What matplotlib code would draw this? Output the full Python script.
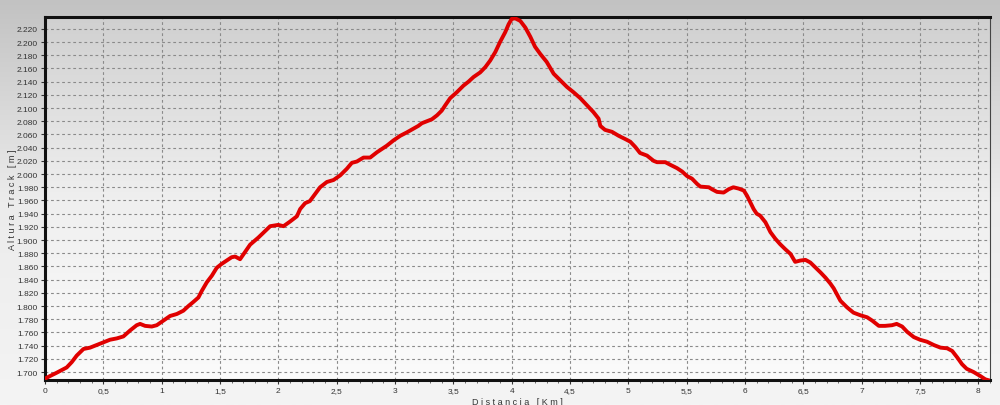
import numpy as np
import matplotlib
matplotlib.use('Agg')
import matplotlib.pyplot as plt
from matplotlib.ticker import FuncFormatter, MultipleLocator

# perfil del track: distancia (km) y altura (m)
dist_km = [0.0, 0.043, 0.1, 0.143, 0.186, 0.229, 0.272, 0.33, 0.386, 0.443, 0.5, 0.557,
           0.615, 0.672, 0.729, 0.786, 0.815, 0.858, 0.915, 0.958, 1.015, 1.072, 1.13,
           1.186, 1.229, 1.27, 1.315, 1.344, 1.387, 1.43, 1.472, 1.515, 1.558, 1.6, 1.63,
           1.672, 1.758, 1.83, 1.93, 2.0, 2.044, 2.1, 2.159, 2.187, 2.23, 2.27, 2.316,
           2.358, 2.416, 2.473, 2.53, 2.587, 2.63, 2.673, 2.73, 2.787, 2.845, 2.93, 2.987,
           3.045, 3.1, 3.159, 3.2, 3.23, 3.287, 3.316, 3.36, 3.4, 3.43, 3.473, 3.53, 3.587,
           3.63, 3.673, 3.73, 3.774, 3.816, 3.86, 3.9, 3.945, 3.974, 4.0, 4.03, 4.074,
           4.117, 4.16, 4.2, 4.245, 4.3, 4.36, 4.417, 4.474, 4.53, 4.588, 4.646, 4.7,
           4.745, 4.76, 4.8, 4.86, 4.917, 4.974, 5.017, 5.06, 5.1, 5.16, 5.217, 5.246,
           5.317, 5.36, 5.417, 5.46, 5.503, 5.546, 5.59, 5.617, 5.69, 5.717, 5.76, 5.817,
           5.86, 5.9, 5.946, 5.99, 6.018, 6.046, 6.074, 6.1, 6.13, 6.175, 6.218, 6.26,
           6.3, 6.346, 6.39, 6.43, 6.475, 6.518, 6.56, 6.6, 6.647, 6.69, 6.732, 6.76,
           6.818, 6.875, 6.93, 6.99, 7.047, 7.09, 7.147, 7.2, 7.26, 7.3, 7.347, 7.39,
           7.447, 7.5, 7.56, 7.618, 7.676, 7.733, 7.776, 7.82, 7.86, 7.9, 7.96, 8.017,
           8.06, 8.1]
alt_m = [1690, 1694, 1699, 1703, 1707, 1715, 1725, 1735, 1737, 1741, 1745, 1749,
         1751, 1754, 1763, 1771, 1773, 1770, 1769, 1771, 1778, 1785, 1788,
         1793, 1800, 1806, 1813, 1823, 1836, 1846, 1858, 1864, 1869, 1874, 1875,
         1871, 1893, 1904, 1921, 1923, 1921, 1928, 1936, 1947, 1956, 1959, 1970,
         1980, 1988, 1991, 1998, 2008, 2017, 2019, 2025, 2025, 2033, 2043, 2051,
         2058, 2063, 2069, 2073, 2077, 2081, 2083, 2089, 2096, 2104, 2115, 2124, 2134,
         2140, 2147, 2154, 2162, 2172, 2185, 2200, 2215, 2227, 2235, 2236, 2232,
         2222, 2208, 2193, 2182, 2170, 2152, 2142, 2132, 2124, 2115, 2104, 2094,
         2084, 2073, 2067, 2064, 2058, 2053, 2049, 2041, 2032, 2028, 2020, 2018,
         2018, 2014, 2009, 2004, 1997, 1993, 1985, 1981, 1980, 1977, 1973, 1972,
         1977, 1980, 1978, 1975, 1967, 1957, 1947, 1940, 1937, 1927, 1912, 1902,
         1894, 1886, 1879, 1867, 1869, 1870, 1866, 1859, 1851, 1843, 1834, 1827,
         1808, 1798, 1790, 1786, 1783, 1778, 1770, 1770, 1771, 1773, 1769, 1761,
         1753, 1749, 1746, 1741, 1737, 1736, 1732, 1722, 1712, 1705, 1700, 1694,
         1689, 1687]

x_ticks = np.arange(0, 8.01, 0.5)
y_ticks = np.arange(1700, 2221, 20)

plt.rcParams['font.family'] = ['Liberation Sans', 'DejaVu Sans']

fig = plt.figure(figsize=(10, 4.06), dpi=100)

# fondo degradado (oscuro arriba, claro abajo)
grad = np.linspace(0, 1, 256).reshape(-1, 1)
bg = fig.add_axes([0, 0, 1, 1], zorder=-5)
bg.imshow(grad, aspect='auto', origin='lower', extent=[0, 1, 0, 1],
          cmap=matplotlib.colors.LinearSegmentedColormap.from_list(
              'g', ['#f4f4f4', '#ececec', '#c2c2c2']))
bg.axis('off')

ax = fig.add_axes([0.045, 0.0616, 0.945, 0.8941])
ax.set_facecolor('none')
ax.imshow(grad, aspect='auto', origin='lower', transform=ax.transAxes,
          extent=[0, 1, 0, 1], zorder=0,
          cmap=matplotlib.colors.LinearSegmentedColormap.from_list(
              'a', ['#fbfbfb', '#efefef', '#d0d0d0']))

ax.plot(dist_km, alt_m, color='#e00000', lw=2.8, solid_joinstyle='round', zorder=3)

ax.set_xlim(0, 8.1)
ax.set_ylim(1688, 2238)
ax.set_xticks(x_ticks)
ax.set_yticks(y_ticks)
ax.xaxis.set_minor_locator(MultipleLocator(0.1))
ax.xaxis.set_major_formatter(FuncFormatter(lambda v, p: f'{v:g}'.replace('.', ',')))
ax.yaxis.set_major_formatter(FuncFormatter(lambda v, p: f'{int(v):,}'.replace(',', '.')))
ax.tick_params(labelsize=6, colors='#333333', length=3, width=0.8, pad=2)
ax.tick_params(axis='x', which='minor', length=2, width=0.6, colors='#555555')

ax.grid(True, color='#8a8a8a', lw=0.8, linestyle=(0, (2.5, 2.5)), zorder=1)

for s in ['left', 'top', 'bottom']:
    ax.spines[s].set_linewidth(2.2)
    ax.spines[s].set_color('#111111')
ax.spines['right'].set_linewidth(0.8)
ax.spines['right'].set_color('#444444')

ax.set_xlabel(' '.join('Distancia') + '   [ K m ]', fontsize=6.5, color='#333333', labelpad=2)
ax.set_ylabel(' '.join('Altura') + '   ' + ' '.join('Track') + '   [ m ]', fontsize=6.5,
              color='#333333', labelpad=0)

fig.savefig('out.png', dpi=100)
